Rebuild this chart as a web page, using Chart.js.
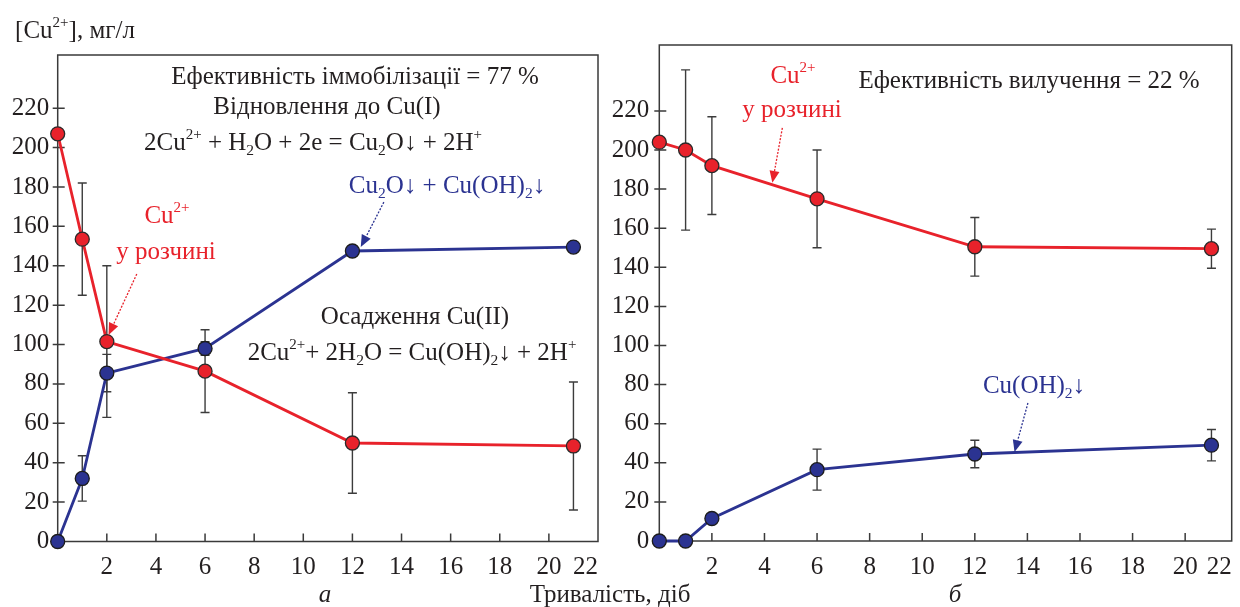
<!DOCTYPE html>
<html>
<head>
<meta charset="utf-8">
<script src="https://cdn.jsdelivr.net/npm/chart.js@4.4.1/dist/chart.umd.min.js"></script>
<style>
  body { margin: 0; background: #fff; overflow: hidden; }
  #wrap { position: relative; width: 1240px; height: 607px; }
  #wrap canvas { position: absolute; left: 0; top: 0; }
</style>
</head>
<body>
<div id="wrap">
  <canvas id="chartA" width="1240" height="607"></canvas>
  <canvas id="chartB" width="1240" height="607"></canvas>
</div>
<script>
// days of treatment
const days = [0, 1, 2, 6, 12, 21];

// panel а: Cu2+ left in solution and precipitated Cu, mg/l
const solA = [207, 153.5, 101.5, 86.5, 50, 48.5];
const solErrA = [0, 28.5, 38.5, 21, 25.5, 32.5];
const sedA = [0, 32, 85.5, 98, 147.5, 149.5];
const sedErrA = [0, 11.5, 9.5, 3.5, 0, 0];

// panel б
const solB = [204, 200, 192, 175, 150.5, 149.5];
const solErrB = [0, 41, 25, 25, 15, 10];
const sedB = [0, 0, 11.5, 36.5, 44.5, 49];
const sedErrB = [0, 0, 0, 10.5, 7, 8];

const xTicks = [0, 2, 4, 6, 8, 10, 12, 14, 16, 18, 20, 22];
const yTicks = [0, 20, 40, 60, 80, 100, 120, 140, 160, 180, 200, 220];

const RED = '#e8222b';
const BLUE = '#2b3391';
const INK = '#231f20';
const FONT = '"Liberation Serif", "DejaVu Serif", serif';

function pts(ys) {
  return days.map((d, i) => ({x: d, y: ys[i]}));
}

// text with ^{sup} and _{sub} parts
function richText(ctx, str, cx, y, size, color, italic) {
  const parts = str.split(/(\^\{[^}]*\}|_\{[^}]*\})/).filter(Boolean).map(p => {
    if (p.startsWith('^{')) return {t: p.slice(2, -1), s: 0.6, dy: -0.45};
    if (p.startsWith('_{')) return {t: p.slice(2, -1), s: 0.62, dy: 0.2};
    return {t: p, s: 1, dy: 0};
  });
  const st = italic ? 'italic ' : '';
  let w = 0;
  parts.forEach(p => {
    ctx.font = st + (size * p.s) + 'px ' + FONT;
    p.w = ctx.measureText(p.t).width;
    w += p.w;
  });
  let x = cx - w / 2;
  ctx.fillStyle = color;
  ctx.textAlign = 'left';
  ctx.textBaseline = 'alphabetic';
  parts.forEach(p => {
    ctx.font = st + (size * p.s) + 'px ' + FONT;
    ctx.fillText(p.t, x, y + p.dy * size);
    x += p.w;
  });
}

function dottedArrow(ctx, x1, y1, x2, y2, color) {
  ctx.save();
  ctx.strokeStyle = color;
  ctx.fillStyle = color;
  ctx.lineWidth = 1.3;
  ctx.setLineDash([2, 1.5]);
  const a = Math.atan2(y2 - y1, x2 - x1), head = 12, hw = 5;
  const bx = x2 - head * Math.cos(a), by = y2 - head * Math.sin(a);
  ctx.beginPath();
  ctx.moveTo(x1, y1);
  ctx.lineTo(bx, by);
  ctx.stroke();
  ctx.setLineDash([]);
  ctx.beginPath();
  ctx.moveTo(x2, y2);
  ctx.lineTo(bx + hw * Math.sin(a), by - hw * Math.cos(a));
  ctx.lineTo(bx - hw * Math.sin(a), by + hw * Math.cos(a));
  ctx.closePath();
  ctx.fill();
  ctx.restore();
}

// frame, inner ticks and error bars, under the points
const framePlugin = {
  id: 'frame',
  beforeDatasetsDraw(chart) {
    const {ctx, chartArea: ca, scales: {x, y}} = chart;
    ctx.save();
    ctx.strokeStyle = '#3a3a3a';
    ctx.lineWidth = 1.5;
    ctx.strokeRect(ca.left, ca.top, ca.right - ca.left, ca.bottom - ca.top);
    ctx.beginPath();
    xTicks.forEach(v => {
      if (v <= 0 || v >= x.max) return;
      const px = x.getPixelForValue(v);
      ctx.moveTo(px, ca.bottom);
      ctx.lineTo(px, ca.bottom - 8);
    });
    yTicks.forEach(v => {
      if (v <= 0) return;
      const py = y.getPixelForValue(v);
      ctx.moveTo(ca.left - 5, py);
      ctx.lineTo(ca.left + 7, py);
    });
    ctx.stroke();

    ctx.strokeStyle = '#3c3c3c';
    ctx.lineWidth = 1.4;
    chart.data.datasets.forEach(ds => {
      ds.data.forEach((p, i) => {
        const e = ds.err[i];
        if (!e) return;
        const px = x.getPixelForValue(p.x);
        const y1 = y.getPixelForValue(p.y + e);
        const y2 = y.getPixelForValue(p.y - e);
        ctx.beginPath();
        ctx.moveTo(px, y1); ctx.lineTo(px, y2);
        ctx.moveTo(px - 4.5, y1); ctx.lineTo(px + 4.5, y1);
        ctx.moveTo(px - 4.5, y2); ctx.lineTo(px + 4.5, y2);
        ctx.stroke();
      });
    });
    ctx.restore();
  }
};

// notes on each panel; arrows are given in data units
const notesPlugin = {
  id: 'notes',
  afterDraw(chart, args, opts) {
    const {ctx, scales: {x, y}} = chart;
    ctx.save();
    (opts.texts || []).forEach(t => richText(ctx, t.s, t.x, t.y, t.size || 25, t.color || INK, t.italic));
    (opts.arrows || []).forEach(a => dottedArrow(ctx,
      x.getPixelForValue(a.from[0]), y.getPixelForValue(a.from[1]),
      x.getPixelForValue(a.to[0]), y.getPixelForValue(a.to[1]), a.color));
    ctx.restore();
  }
};

function makeChart(id, box, xMax, yMax, sol, solErr, sed, sedErr, notes) {
  const tickFont = {family: FONT, size: 25};
  return new Chart(document.getElementById(id), {
    type: 'line',
    data: {
      datasets: [{
        data: pts(sol), err: solErr,
        borderColor: RED, borderWidth: 2.8,
        pointRadius: 7, pointBackgroundColor: RED,
        pointBorderColor: '#2a2a2a', pointBorderWidth: 1.3,
        tension: 0, clip: false
      }, {
        data: pts(sed), err: sedErr,
        borderColor: BLUE, borderWidth: 2.8,
        pointRadius: 7, pointBackgroundColor: BLUE,
        pointBorderColor: '#1c1c1c', pointBorderWidth: 1.3,
        tension: 0, clip: false
      }]
    },
    options: {
      responsive: false,
      animation: false,
      layout: {padding: {left: 0, top: box.top, right: 1240 - box.right, bottom: 0}},
      plugins: {legend: {display: false}, tooltip: {enabled: false}, notes: notes},
      scales: {
        x: {
          type: 'linear', min: 0, max: xMax,
          grid: {display: false, drawTicks: false},
          border: {display: false},
          afterBuildTicks: s => { s.ticks = xTicks.map(v => ({value: Math.min(v, s.max)})); },
          afterFit: s => { s.height = 607 - box.bottom; s.paddingLeft = 0; s.paddingRight = 0; },
          ticks: {
            font: tickFont, color: INK, padding: 11, align: 'inner',
            maxRotation: 0, autoSkip: false,
            callback: (v, i) => xTicks[i] === 0 ? '' : String(xTicks[i])
          }
        },
        y: {
          type: 'linear', min: 0, max: yMax,
          grid: {display: false, drawTicks: false},
          border: {display: false},
          afterBuildTicks: s => { s.ticks = yTicks.map(v => ({value: v})); },
          afterFit: s => { s.width = box.left; s.paddingTop = 0; s.paddingBottom = 0; },
          ticks: {font: tickFont, color: INK, padding: box.labelPad}
        }
      }
    },
    plugins: [framePlugin, notesPlugin]
  });
}

makeChart('chartA', {left: 57.7, right: 598, top: 55, bottom: 541.5, labelPad: 8.5}, 22, 247,
  solA, solErrA, sedA, sedErrA, {
    texts: [
      {s: '[Cu^{2+}], мг/л', x: 75, y: 38},
      {s: 'Ефективність іммобілізації = 77 %', x: 355, y: 84},
      {s: 'Відновлення до Cu(I)', x: 327, y: 114},
      {s: '2Cu^{2+} + H_{2}O + 2e = Cu_{2}O↓ + 2H^{+}', x: 313, y: 150},
      {s: 'Cu_{2}O↓ + Cu(OH)_{2}↓', x: 447, y: 193, color: BLUE},
      {s: 'Cu^{2+}', x: 167, y: 223, color: RED},
      {s: 'у розчині', x: 166, y: 259, color: RED},
      {s: 'Осадження Cu(II)', x: 415, y: 324},
      {s: '2Cu^{2+}+ 2H_{2}O = Cu(OH)_{2}↓ + 2H^{+}', x: 412, y: 360},
      {s: 'а', x: 325, y: 602, italic: true},
      {s: 'Тривалість, діб', x: 610, y: 602}
    ],
    arrows: [
      {from: [13.28, 172.3], to: [12.34, 149.5], color: BLUE},
      {from: [3.22, 135.8], to: [2.07, 104.8], color: RED}
    ]
  });

makeChart('chartB', {left: 659.3, right: 1235, top: 45, bottom: 541, labelPad: 10}, 21.77, 253.7,
  solB, solErrB, sedB, sedErrB, {
    texts: [
      {s: 'Cu^{2+}', x: 793, y: 83, color: RED},
      {s: 'у розчині', x: 792, y: 117, color: RED},
      {s: 'Ефективність вилучення = 22 %', x: 1029, y: 88},
      {s: 'Cu(OH)_{2}↓', x: 1034, y: 393, color: BLUE},
      {s: 'б', x: 955, y: 602, italic: true}
    ],
    arrows: [
      {from: [4.68, 211.3], to: [4.30, 183.2], color: RED},
      {from: [14.02, 70.6], to: [13.51, 45.5], color: BLUE}
    ]
  });
</script>
</body>
</html>
